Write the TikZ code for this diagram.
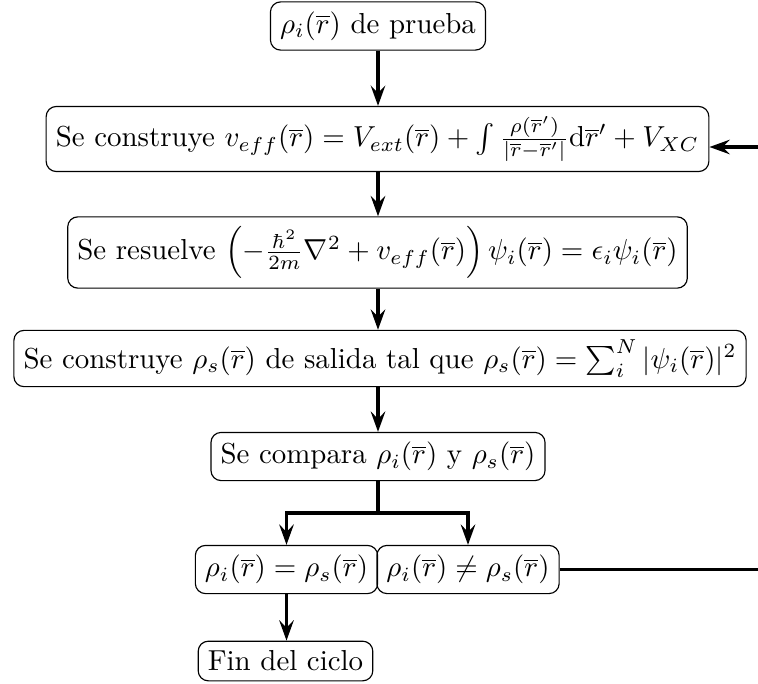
\documentclass[tikz,border=0pt]{standalone}
\usepackage{amsmath}
\usetikzlibrary{arrows.meta}
\begin{document}
\begin{tikzpicture}[x=0.346pt,y=-0.346pt,
  box/.style={draw,rounded corners=3.5pt,line width=0.4pt,inner sep=0.3333em},
  conn/.style={line width=1.15pt},
  arr/.style={conn,-{Stealth[length=7pt,width=5pt,inset=2.5pt]}}]
\useasboundingbox (0,0) rectangle (758,683);
\node[box] (b1) at (378,26) {$\rho_i(\overline{r})$ de prueba};
\node[box] (b2) at (377.5,139) {Se construye $v_{eff}(\overline{r}) = V_{ext}(\overline{r}) + \int \frac{\rho(\overline{r}')}{|\overline{r}-\overline{r}'|}\mathrm{d}\overline{r}' + V_{XC}$};
\node[box] (b3) at (377.5,252.5) {Se resuelve $\left(-\frac{\hbar^2}{2m}\nabla^2 + v_{eff}(\overline{r})\right)\psi_i(\overline{r}) = \epsilon_i\psi_i(\overline{r})$};
\node[box] (b4) at (380,358.5) {Se construye $\rho_s(\overline{r})$ de salida tal que $\rho_s(\overline{r}) = \sum_i^N |\psi_i(\overline{r})|^2$};
\node[box] (b5) at (378,456.5) {Se compara $\rho_i(\overline{r})$ y $\rho_s(\overline{r})$};
\node[box] (b6) at (286.5,569.5) {$\rho_i(\overline{r}) = \rho_s(\overline{r})$};
\node[box] (b7) at (468,569.5) {$\rho_i(\overline{r}) \neq \rho_s(\overline{r})$};
\node[box] (b8) at (285.5,661) {Fin del ciclo};
\coordinate (br) at (378,513);
\coordinate (rtop) at (758,147);
\coordinate (rbot) at (758,570);
\draw[arr] (b1.south) -- (b1.south |- b2.north);
\draw[arr] (b2.south -| b1.south) -- (b3.north -| b1.south);
\draw[arr] (b3.south -| b1.south) -- (b4.north -| b1.south);
\draw[arr] (b4.south -| b1.south) -- (b5.north -| b1.south);
\draw[conn] (b5.south -| br) -- (br);
\draw[arr] (br) -| (b6.north);
\draw[arr] (br) -| (b7.north);
\draw[arr] (b6.south) -- (b6.south |- b8.north);
\draw[conn] (b7.east) -- (b7.east -| rbot);
\draw[arr] (rtop) -- (b2.east |- rtop);
\end{tikzpicture}
\end{document}
